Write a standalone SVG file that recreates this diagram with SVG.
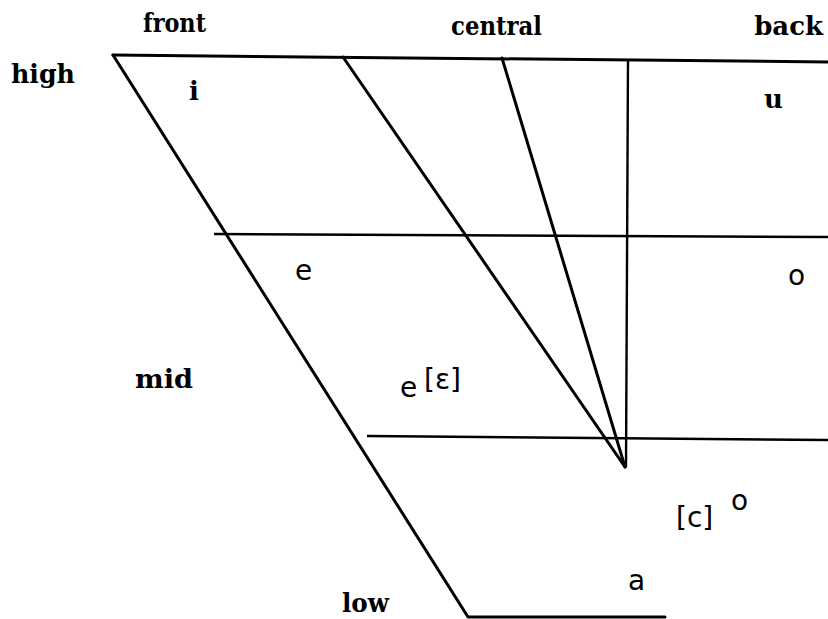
<svg xmlns="http://www.w3.org/2000/svg" width="828" height="619" viewBox="0 0 828 619">
<style>
.ln{stroke:#000;stroke-width:3;fill:none;stroke-linecap:round;stroke-linejoin:round}
.hl{stroke:#000;stroke-width:2.4;fill:none}
.lab{font-family:"DejaVu Serif","Liberation Serif",serif;font-weight:bold;font-size:26px;fill:#000}
.ser{font-family:"DejaVu Serif","Liberation Serif",serif;font-weight:bold;font-size:26px;fill:#000}
.sans{font-family:"DejaVu Sans","Liberation Sans",sans-serif;font-size:28px;fill:#000}
</style>
<rect width="828" height="619" fill="#fff"/>
<g id="connectors">
<polyline class="ln" points="113,55 828,62"/>
<polyline class="ln" points="113,55 468,617 665,617"/>
<line class="hl" x1="214" y1="234" x2="828" y2="237"/>
<line class="hl" x1="367" y1="436" x2="828" y2="440"/>
<line class="ln" x1="343" y1="57" x2="625" y2="467"/>
<line class="ln" x1="502" y1="58" x2="625" y2="467"/>
<line class="hl" x1="628" y1="59" x2="626" y2="467"/>
</g>
<g id="label-front"><text class="lab" x="143" y="32" textLength="63" lengthAdjust="spacingAndGlyphs">front</text></g>
<g id="label-central"><text class="lab" x="451" y="35" textLength="91" lengthAdjust="spacingAndGlyphs">central</text></g>
<g id="label-back"><text class="lab" x="823" y="35" font-size="21" text-anchor="end">back</text></g>
<g id="label-high"><text class="lab" x="11" y="83" font-size="29" textLength="64" lengthAdjust="spacingAndGlyphs">high</text></g>
<g id="label-mid"><text class="lab" x="135" y="388" textLength="58" lengthAdjust="spacingAndGlyphs">mid</text></g>
<g id="label-low"><text class="lab" x="342" y="612" textLength="47" lengthAdjust="spacingAndGlyphs">low</text></g>
<g id="v-i"><text class="ser" x="189" y="100">i</text></g>
<g id="v-u"><text class="ser" x="764" y="108">u</text></g>
<g id="v-e1"><text class="sans" x="295" y="280">e</text></g>
<g id="v-o"><text class="sans" x="788" y="285">o</text></g>
<g id="v-e2"><text class="sans" x="400" y="397" font-size="24">e</text><text class="sans" x="424" y="389" font-size="17">[ε]</text></g>
<g id="v-c"><text class="sans" x="676" y="527" font-size="30">[c]</text><text class="sans" x="731" y="510" font-size="20">o</text></g>
<g id="v-a"><text class="sans" x="628" y="590">a</text></g>
</svg>
